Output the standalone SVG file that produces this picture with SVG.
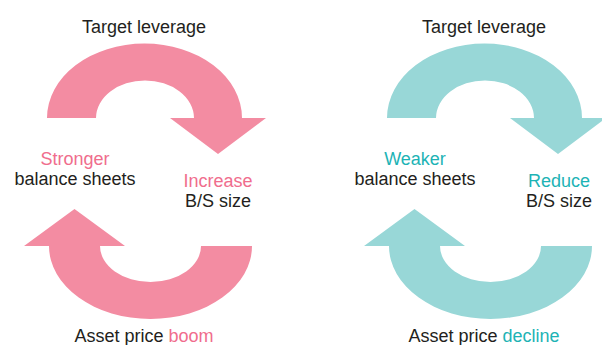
<svg xmlns="http://www.w3.org/2000/svg" width="602" height="345" viewBox="0 0 602 345">
<style>
text{font-family:"Liberation Sans",Arial,sans-serif;font-size:18px;fill:#231f20;text-anchor:middle}
.pinkF{fill:#f38ca2}
.tealF{fill:#98d7d7}
.pinkT{fill:#f06d8d}
.tealT{fill:#1db3b5}
</style>
<defs>
<path id="topArrow" d="M47,118 A97.5,74.5 0 0 1 242,118 L266,118 L218,154 L170,118 L194,118 A49,37.5 0 0 0 96,118 Z"/>
<path id="botArrow" d="M252,246 A101.5,73 0 0 1 49,246 L24,246 L74.5,209 L125,246 L100,246 A50.5,36 0 0 0 201,246 Z"/>
</defs>
<g id="connectors">
<use href="#topArrow" class="pinkF"/>
<use href="#botArrow" class="pinkF"/>
<use href="#topArrow" class="tealF" transform="translate(340,0)"/>
<use href="#botArrow" class="tealF" transform="translate(340,0)"/>
</g>
<g id="left-target"><text x="144" y="33">Target leverage</text></g>
<g id="left-stronger"><text x="75" y="165" class="pinkT">Stronger</text><text x="75" y="185">balance sheets</text></g>
<g id="left-increase"><text x="218" y="187" class="pinkT">Increase</text><text x="218" y="207">B/S size</text></g>
<g id="left-boom"><text x="144" y="342">Asset price <tspan class="pinkT">boom</tspan></text></g>
<g id="right-target"><text x="484" y="33">Target leverage</text></g>
<g id="right-weaker"><text x="415" y="165" class="tealT">Weaker</text><text x="415" y="185">balance sheets</text></g>
<g id="right-reduce"><text x="559" y="187" class="tealT">Reduce</text><text x="559" y="207">B/S size</text></g>
<g id="right-decline"><text x="484" y="342">Asset price <tspan class="tealT">decline</tspan></text></g>
</svg>
